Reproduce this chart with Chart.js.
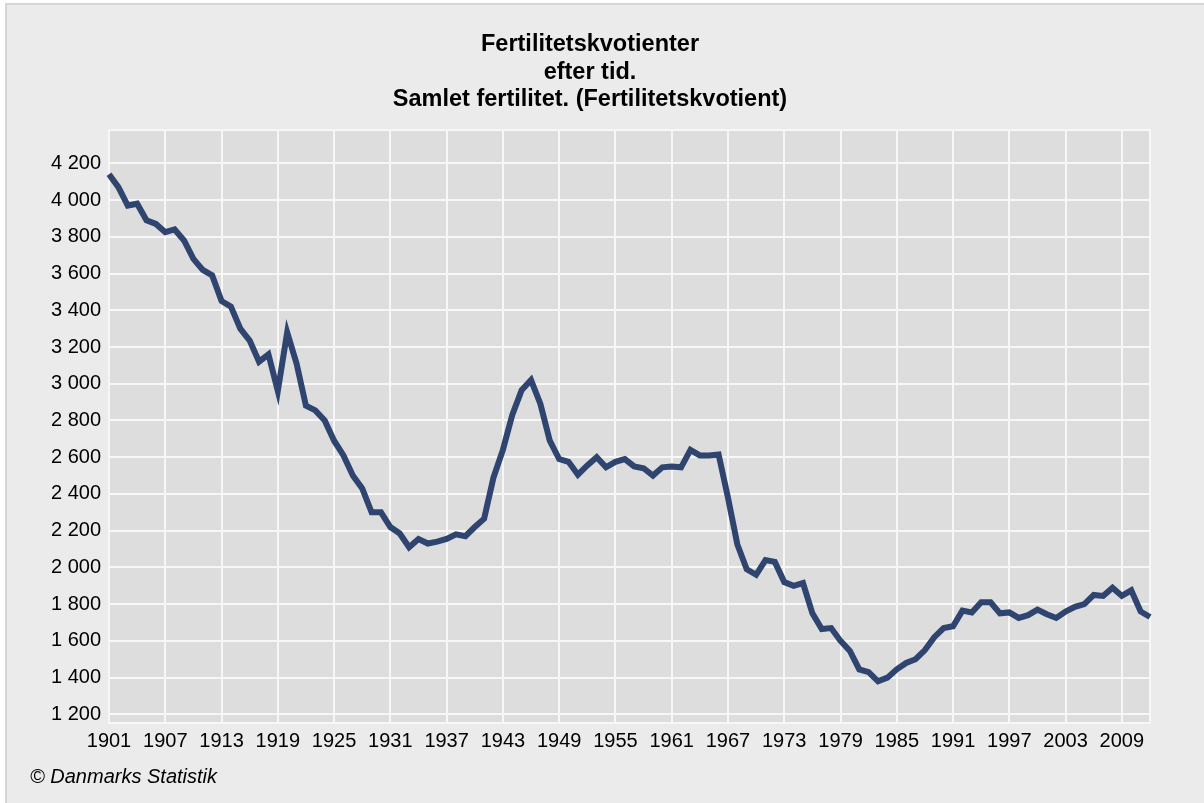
<!DOCTYPE html>
<html>
<head>
<meta charset="utf-8">
<script src="https://cdn.jsdelivr.net/npm/chart.js@4.4.1/dist/chart.umd.min.js"></script>
<style>
  html, body { margin:0; padding:0; background:#fff; }
  #frame { position:absolute; left:5px; top:3px; width:1199px; height:800px;
           background:#ebebeb; border-top:2px solid #d6d6d6; border-left:2px solid #d6d6d6; }
  #frame canvas { position:absolute; left:0; top:0; }
</style>
</head>
<body>
<div id="frame"><canvas id="fert" width="1197" height="798"></canvas></div>
<script>
// ----- data -----
const years = [
  1901,1902,1903,1904,1905,1906,1907,1908,1909,1910,
  1911,1912,1913,1914,1915,1916,1917,1918,1919,1920,
  1921,1922,1923,1924,1925,1926,1927,1928,1929,1930,
  1931,1932,1933,1934,1935,1936,1937,1938,1939,1940,
  1941,1942,1943,1944,1945,1946,1947,1948,1949,1950,
  1951,1952,1953,1954,1955,1956,1957,1958,1959,1960,
  1961,1962,1963,1964,1965,1966,1967,1968,1969,1970,
  1971,1972,1973,1974,1975,1976,1977,1978,1979,1980,
  1981,1982,1983,1984,1985,1986,1987,1988,1989,1990,
  1991,1992,1993,1994,1995,1996,1997,1998,1999,2000,
  2001,2002,2003,2004,2005,2006,2007,2008,2009,2010,
  2011,2012
];
const fertility = [
  4140,4070,3970,3980,3890,3870,3825,3840,3780,3680,
  3620,3590,3450,3420,3300,3235,3120,3160,2960,3280,
  3110,2880,2855,2800,2690,2610,2500,2430,2300,2300,
  2220,2185,2110,2155,2130,2140,2155,2180,2170,2220,
  2265,2490,2640,2830,2965,3020,2890,2690,2590,2575,
  2505,2555,2600,2545,2575,2590,2550,2540,2500,2545,
  2550,2545,2640,2610,2610,2615,2380,2125,1990,1960,
  2040,2030,1920,1900,1915,1750,1665,1670,1600,1545,
  1445,1430,1380,1400,1445,1480,1500,1550,1620,1670,
  1680,1765,1755,1810,1810,1750,1755,1725,1740,1770,
  1745,1725,1760,1785,1800,1850,1845,1890,1845,1875,
  1760,1730
];
const xTickLabels = ["1901","1907","1913","1919","1925","1931","1937","1943","1949",
                     "1955","1961","1967","1973","1979","1985","1991","1997","2003","2009"];
const yTicks = [1200,1400,1600,1800,2000,2200,2400,2600,2800,3000,3200,3400,3600,3800,4000,4200];
const titleLines = ["Fertilitetskvotienter", "efter tid.", "Samlet fertilitet. (Fertilitetskvotient)"];
const sourceText = "\u00A9 Danmarks Statistik";

function fmt(v){ return String(v).replace(/\B(?=(\d{3})+(?!\d))/g, " "); }

// plot background + white frame
const plotFrame = {
  id: "plotFrame",
  beforeDraw(chart){
    const a = chart.chartArea, c = chart.ctx;
    c.save(); c.fillStyle = "#dddddd"; c.fillRect(a.left, a.top, a.right-a.left, a.bottom-a.top); c.restore();
  },
  beforeDatasetsDraw(chart){
    const a = chart.chartArea, c = chart.ctx;
    c.save(); c.strokeStyle = "#f7f7f7"; c.lineWidth = 2;
    c.strokeRect(a.left, a.top, a.right-a.left, a.bottom-a.top); c.restore();
  }
};

const ctx = document.getElementById("fert").getContext("2d");
new Chart(ctx, {
  type: "line",
  data: {
    labels: years.map(String),
    datasets: [{
      data: fertility,
      borderColor: "#2f4570",
      borderWidth: 6,
      pointRadius: 0,
      tension: 0,
      fill: false
    }]
  },
  plugins: [plotFrame],
  options: {
    responsive: false,
    animation: false,
    layout: { padding: { left: 23, right: 54, top: 0, bottom: 0 } },
    plugins: {
      legend: { display: false },
      tooltip: { enabled: false },
      title: {
        display: true, text: titleLines, color: "#000",
        font: { family: "'Liberation Sans', Arial, sans-serif", size: 23.5, weight: "bold", lineHeight: 1.15 },
        padding: { top: 26.5, bottom: 17.5 }
      },
      subtitle: {
        display: true, text: sourceText, position: "bottom", align: "start", color: "#000",
        font: { family: "'Liberation Sans', Arial, sans-serif", size: 20, style: "italic", lineHeight: 1.2 },
        padding: { top: 4, bottom: 14 }
      }
    },
    scales: {
      x: {
        type: "category",
        border: { display: false },
        grid: { color: "#f7f7f7", lineWidth: 2, drawTicks: false },
        ticks: {
          autoSkip: false, maxRotation: 0, padding: 6, color: "#000",
          font: { family: "'Liberation Sans', Arial, sans-serif", size: 20 },
          callback: function(v){ const l = this.getLabelForValue(v); return xTickLabels.includes(l) ? l : null; }
        },
        afterFit(s){ s.height = 38; }
      },
      y: {
        min: 1153, max: 4381,
        border: { display: false },
        grid: { color: "#f7f7f7", lineWidth: 2, drawTicks: false },
        ticks: {
          padding: 8, color: "#000",
          font: { family: "'Liberation Sans', Arial, sans-serif", size: 20 },
          callback: v => fmt(v)
        },
        afterBuildTicks(s){ s.ticks = yTicks.map(v => ({ value: v })); },
        afterFit(s){ s.width = 79; }
      }
    }
  }
});
</script>
</body>
</html>
